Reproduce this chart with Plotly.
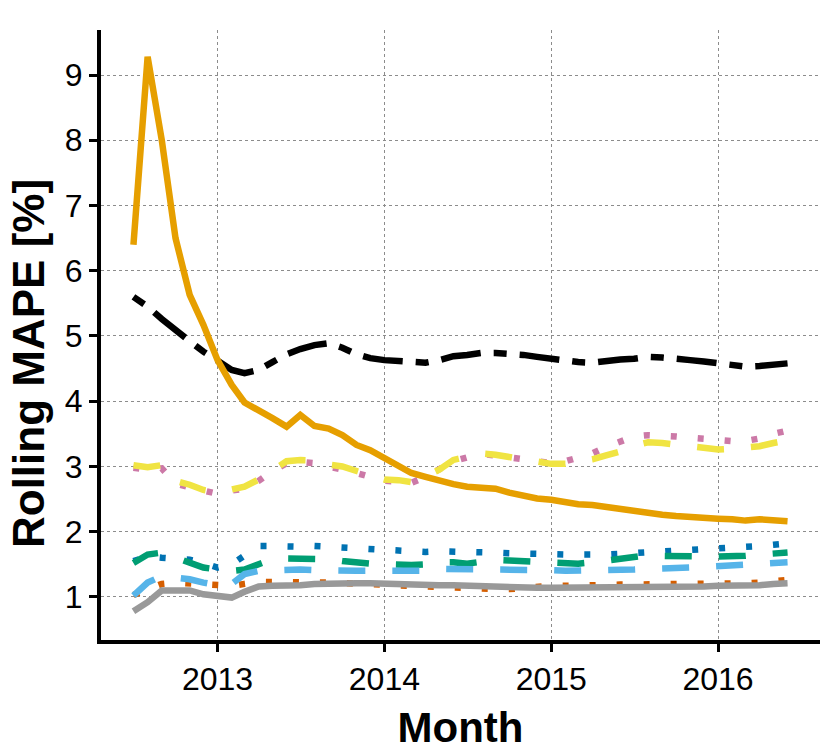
import pandas as pd
import plotly.graph_objects as go

months = pd.date_range("2012-07-01", periods=48, freq="MS")

orange = [6.40, 9.28, 8.00, 6.50, 5.63, 5.17, 4.63, 4.25, 3.98, 3.87, 3.74, 3.61,
          3.79, 3.62, 3.58, 3.48, 3.33, 3.25, 3.12, 3.00, 2.90, 2.84, 2.78, 2.73,
          2.69, 2.67, 2.66, 2.60, 2.55, 2.51, 2.49, 2.45, 2.42, 2.41, 2.38, 2.34,
          2.30, 2.28, 2.26, 2.24, 2.22, 2.22, 2.20, 2.19, 2.17, 2.19, 2.18, 2.16]
black = [5.60, 5.45, 5.26, 5.08, 4.92, 4.76, 4.62, 4.48, 4.43, 4.48, 4.60, 4.72,
         4.80, 4.86, 4.89, 4.82, 4.72, 4.66, 4.63, 4.61, 4.61, 4.59, 4.63, 4.69,
         4.71, 4.74, 4.74, 4.73, 4.71, 4.68, 4.65, 4.62, 4.60, 4.59, 4.62, 4.64,
         4.65, 4.68, 4.67, 4.66, 4.63, 4.61, 4.58, 4.55, 4.53, 4.54, 4.57, 4.58]
yellow = [3.02, 2.99, 3.02, 2.78, 2.72, 2.64, 2.60, 2.66, 2.69, 2.80, 2.95, 3.08,
          3.10, 3.09, 3.03, 3.00, 2.93, 2.87, 2.80, 2.79, 2.76, 2.85, 2.95, 3.10,
          3.15, 3.20, 3.18, 3.15, 3.10, 3.07, 3.04, 3.04, 3.07, 3.11, 3.17, 3.23,
          3.32, 3.37, 3.36, 3.33, 3.30, 3.28, 3.26, 3.27, 3.28, 3.31, 3.36, 3.40]
pink = [2.98, 2.95, 2.97, 2.74, 2.68, 2.62, 2.58, 2.63, 2.66, 2.78, 2.93, 3.05,
        3.07, 3.05, 3.00, 2.97, 2.90, 2.84, 2.78, 2.77, 2.75, 2.84, 2.95, 3.08,
        3.14, 3.19, 3.17, 3.14, 3.09, 3.06, 3.05, 3.08, 3.14, 3.20, 3.30, 3.38,
        3.46, 3.48, 3.48, 3.46, 3.44, 3.42, 3.40, 3.39, 3.39, 3.43, 3.50, 3.55]
dark_blue = [1.55, 1.62, 1.60, 1.58, 1.57, 1.52, 1.45, 1.50, 1.62, 1.78, 1.78, 1.77,
             1.77, 1.78, 1.77, 1.75, 1.74, 1.73, 1.72, 1.70, 1.69, 1.69, 1.70, 1.70,
             1.70, 1.69, 1.68, 1.67, 1.66, 1.66, 1.65, 1.65, 1.65, 1.64, 1.65, 1.66,
             1.67, 1.68, 1.69, 1.70, 1.71, 1.73, 1.75, 1.76, 1.76, 1.78, 1.80, 1.82]
green = [1.52, 1.65, 1.68, 1.60, 1.52, 1.45, 1.42, 1.40, 1.42, 1.50, 1.58, 1.59,
         1.59, 1.59, 1.58, 1.55, 1.52, 1.51, 1.50, 1.49, 1.49, 1.50, 1.53, 1.53,
         1.51, 1.54, 1.57, 1.56, 1.55, 1.53, 1.52, 1.50, 1.51, 1.53, 1.56, 1.59,
         1.63, 1.64, 1.63, 1.62, 1.62, 1.62, 1.62, 1.62, 1.63, 1.65, 1.67, 1.68]
light_blue = [1.02, 1.22, 1.32, 1.30, 1.27, 1.22, 1.18, 1.20, 1.35, 1.40, 1.41, 1.42,
              1.42, 1.41, 1.40, 1.40, 1.40, 1.40, 1.40, 1.39, 1.38, 1.40, 1.43, 1.43,
              1.43, 1.43, 1.43, 1.43, 1.42, 1.41, 1.41, 1.40, 1.40, 1.40, 1.40, 1.41,
              1.42, 1.43, 1.43, 1.44, 1.45, 1.46, 1.47, 1.49, 1.50, 1.52, 1.53, 1.53]
vermillion = [1.03, 1.12, 1.20, 1.22, 1.21, 1.20, 1.18, 1.17, 1.20, 1.23, 1.23, 1.22,
              1.22, 1.22, 1.22, 1.21, 1.20, 1.19, 1.18, 1.17, 1.16, 1.15, 1.14, 1.13,
              1.13, 1.13, 1.12, 1.12, 1.14, 1.16, 1.17, 1.17, 1.18, 1.18, 1.19, 1.19,
              1.19, 1.19, 1.19, 1.19, 1.20, 1.20, 1.20, 1.20, 1.21, 1.22, 1.24, 1.26]
gray = [0.78, 0.92, 1.10, 1.11, 1.10, 1.04, 1.02, 0.99, 1.08, 1.16, 1.17, 1.17,
        1.18, 1.20, 1.21, 1.22, 1.21, 1.21, 1.20, 1.19, 1.18, 1.18, 1.18, 1.18,
        1.17, 1.16, 1.15, 1.15, 1.15, 1.14, 1.14, 1.14, 1.14, 1.15, 1.15, 1.15,
        1.15, 1.15, 1.16, 1.16, 1.16, 1.16, 1.17, 1.17, 1.17, 1.18, 1.20, 1.21]

LW = 6.5
DOT = "6px,21px"
DASH = "27px,27px"
TWODASH = "13px,13px,40px,13px"

series = [
    (pink, "#CC79A7", DOT),
    (vermillion, "#D55E00", DOT),
    (dark_blue, "#0072B2", DOT),
    (green, "#009E73", DASH),
    (light_blue, "#56B4E9", DASH),
    (black, "#000000", TWODASH),
    (yellow, "#F0E442", DASH),
    (gray, "#999999", "solid"),
    (orange, "#E69F00", "solid"),
]

fig = go.Figure()
for vals, col, dash in series:
    fig.add_trace(go.Scatter(x=months, y=vals, mode="lines",
                             line=dict(color=col, width=LW, dash=dash),
                             showlegend=False, hoverinfo="skip"))

axis_common = dict(
    showline=True, linecolor="black", linewidth=4,
    ticks="outside", ticklen=8, tickwidth=3, tickcolor="black",
    showgrid=True, gridcolor="#8c8c8c", gridwidth=1, griddash="dot",
    zeroline=False,
    tickfont=dict(family="Liberation Sans", size=32, color="black"),
)

fig.update_layout(
    width=830, height=755,
    margin=dict(l=101, r=10, t=30, b=115, autoexpand=False),
    plot_bgcolor="white", paper_bgcolor="white",
    xaxis=dict(**axis_common,
               range=["2012-04-21", "2016-08-11"],
               tickvals=["2013-01-01", "2014-01-01", "2015-01-01", "2016-01-01"],
               ticktext=["2013", "2014", "2015", "2016"],
               ticklabelstandoff=0,
               title=dict(text="<b>Month</b>", standoff=17,
                          font=dict(family="Liberation Sans", size=42, color="black"))),
    yaxis=dict(**axis_common,
               range=[0.34, 9.69],
               tickvals=[1, 2, 3, 4, 5, 6, 7, 8, 9],
               ticklabelstandoff=0),
    annotations=[dict(text="<b>Rolling MAPE [%]</b>", textangle=-90,
                      xref="paper", yref="paper", x=-0.1001, y=0.4525,
                      xanchor="center", yanchor="middle", showarrow=False,
                      font=dict(family="Liberation Sans", size=44, color="black"))],
)

fig.write_html("out.html", config={"displayModeBar": False},
               post_script="document.body.style.margin='0';")
